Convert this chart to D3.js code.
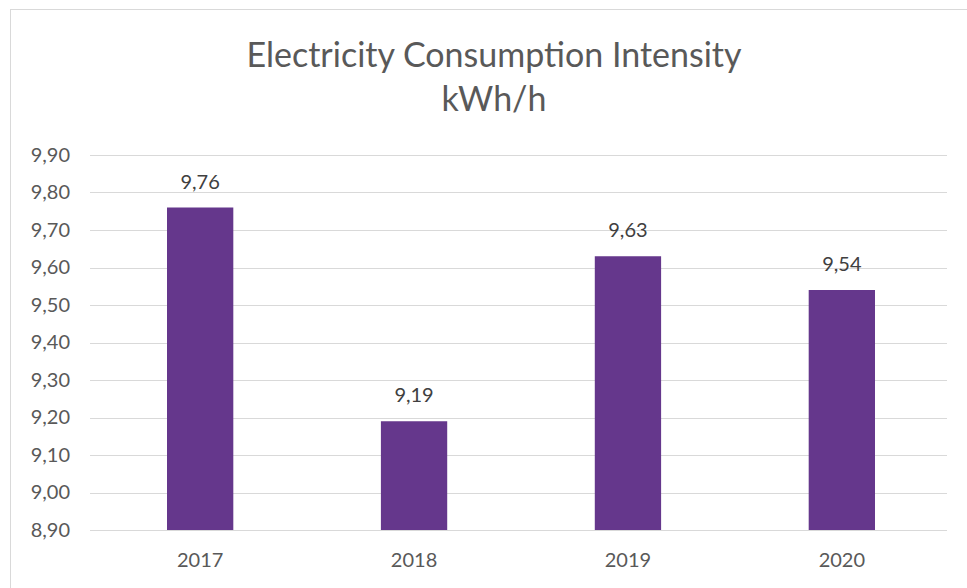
<!DOCTYPE html>
<html><head><meta charset="utf-8">
<script src="https://cdn.jsdelivr.net/npm/d3@7"></script>
<style>body{margin:0;background:#fff;} svg{display:block;} text{font-family:Lato,"Open Sans",sans-serif;}</style>
</head><body>
<svg id="c" width="967" height="588"></svg>
<script>
const categories = ["2017","2018","2019","2020"];
const values = [9.76, 9.19, 9.63, 9.54];
const yTicks = [8.9,9.0,9.1,9.2,9.3,9.4,9.5,9.6,9.7,9.8,9.9];
const titleLines = ["Electricity Consumption Intensity","kWh/h"];

const svg = d3.select("#c");
const W = 967, H = 588;
const m = {left:90, right:20, top:155, bottom:58};
svg.append("rect").attr("x",10.5).attr("y",9.5).attr("width",W).attr("height",H).attr("fill","#fff").attr("stroke","#d9d9d9");

const x = d3.scaleBand().domain(categories).range([m.left, W-15]).paddingInner(0.69).paddingOuter(0.36);
const y = d3.scaleLinear().domain([8.9, 9.9]).range([H-m.bottom, m.top]);
const fmt = v => d3.format(".2f")(v).replace(".", ",");

const grid = svg.append("g");
grid.selectAll("line").data(yTicks).join("line")
  .attr("x1", m.left).attr("x2", W-m.right)
  .attr("y1", d=>Math.round(y(d))+0.5).attr("y2", d=>Math.round(y(d))+0.5)
  .attr("stroke","#d9d9d9").attr("stroke-width",1);

const yAxis = svg.append("g").attr("transform",`translate(${m.left-20},0)`)
  .call(d3.axisLeft(y).tickValues(yTicks).tickFormat(fmt).tickSize(0));
yAxis.select(".domain").remove();
yAxis.selectAll("text").attr("fill","#595959").attr("font-size",20).attr("x",0);

svg.append("g").selectAll("rect").data(values).join("rect")
  .attr("x",(d,i)=>x(categories[i])).attr("width",x.bandwidth())
  .attr("y",d=>y(d)).attr("height",d=>y(8.9)-y(d)).attr("fill","#65378c");

svg.append("g").selectAll("text").data(values).join("text")
  .attr("x",(d,i)=>x(categories[i])+x.bandwidth()/2).attr("y",d=>y(d)-19)
  .attr("text-anchor","middle").attr("fill","#404040").attr("font-size",20).text(fmt);

const xAxis = svg.append("g").attr("transform",`translate(0,${H-m.bottom})`)
  .call(d3.axisBottom(x).tickSize(0).tickPadding(23));
xAxis.select(".domain").remove();
xAxis.selectAll("text").attr("fill","#595959").attr("font-size",20);

svg.append("g").selectAll("text").data(titleLines).join("text")
  .attr("x",494).attr("y",(d,i)=>67+i*44).attr("text-anchor","middle")
  .attr("fill","#595959").attr("font-size",34).text(d=>d);
</script>
</body></html>
